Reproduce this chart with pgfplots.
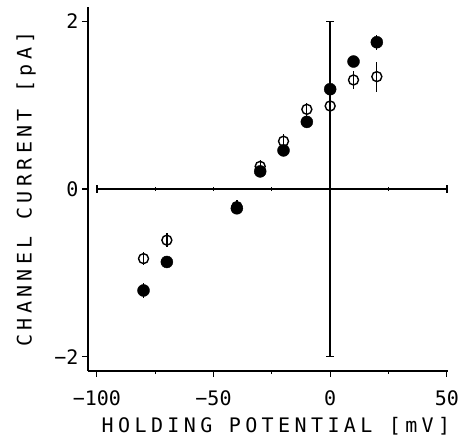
\documentclass[border=0pt]{standalone}
\usepackage{fontspec}
\setmainfont{DejaVu Sans Mono}
\newfontfamily\labfont[LetterSpace=22]{DejaVu Sans Mono}
\usepackage{pgfplots}
\pgfplotsset{compat=1.18}
\begin{document}
\begin{tikzpicture}
\begin{axis}[
  scale only axis, width=360pt, height=364pt,
  xmin=-103.8, xmax=50.5, ymin=-2.17, ymax=2.17,
  axis x line*=bottom, axis y line*=left,
  xtick={-100,-50,0,50}, xticklabels={−100,−50,0,50},
  minor xtick={-75,-25,25},
  ytick={-2,0,2}, yticklabels={−2,0,2},
  tick align=outside, major tick length=6pt, minor tick length=3pt,
  every tick/.style={black, line width=1.2pt},
  axis line style={line width=1.5pt},
  ticklabel style={font=\fontsize{20}{20}\selectfont},
  xticklabel style={yshift=-10pt},
  /pgf/number format/assume math mode=true,
  xlabel={HOLDING POTENTIAL [mV]},
  ylabel={CHANNEL CURRENT [pA]},
  every axis x label/.style={at={(axis description cs:0.5,0)}, xshift=8pt, yshift=-55pt, anchor=center},
  every axis y label/.style={at={(axis description cs:0,0.5)}, xshift=-62pt, rotate=90, anchor=center},
  label style={font=\labfont\fontsize{20}{20}\selectfont},
  clip=false,
]
% crosshair lines
\addplot[black, line width=1.4pt, mark=|, mark size=4pt, mark options={line width=1.4pt}] coordinates {(-100,0) (50,0)};
\addplot[black, only marks, mark=|, mark size=2pt, mark options={line width=1.2pt}] coordinates {(-75,0) (-50,0) (-25,0) (25,0)};
\addplot[black, line width=1.4pt, mark=-, mark size=4pt, mark options={line width=1.4pt}] coordinates {(0,-2) (0,2)};
% open circles
\addplot[black, only marks, mark=o, mark size=5pt, mark options={line width=1.4pt},
  error bars/.cd, y dir=both, y explicit, error mark=none,
  error bar style={line width=1.3pt}] coordinates {
  (-80,-0.83) +- (0,0.08)
  (-70,-0.61) +- (0,0.08)
  (-40,-0.21) +- (0,0.08)
  (-30,0.27) +- (0,0.08)
  (-20,0.57) +- (0,0.08)
  (-10,0.95) +- (0,0.08)
  (0,0.99) +- (0,0.08)
  (10,1.30) +- (0,0.11)
  (20,1.34) +- (0,0.18)
};
% filled circles
\addplot[black, only marks, mark=*, mark size=6pt,
  error bars/.cd, y dir=both, y explicit, error mark=none,
  error bar style={line width=1.3pt}] coordinates {
  (-80,-1.21) +- (0,0.09)
  (-70,-0.87) +- (0,0.05)
  (-40,-0.23) +- (0,0.05)
  (-30,0.21) +- (0,0.05)
  (-20,0.46) +- (0,0.05)
  (-10,0.80) +- (0,0.05)
  (0,1.19) +- (0,0.05)
  (10,1.52) +- (0,0.06)
  (20,1.75) +- (0,0.09)
};
\end{axis}
\pgfresetboundingbox
\path ([shift={(-88pt,-67pt)}]current axis.south west) rectangle ([shift={(16pt,7pt)}]current axis.north east);
\end{tikzpicture}
\end{document}
